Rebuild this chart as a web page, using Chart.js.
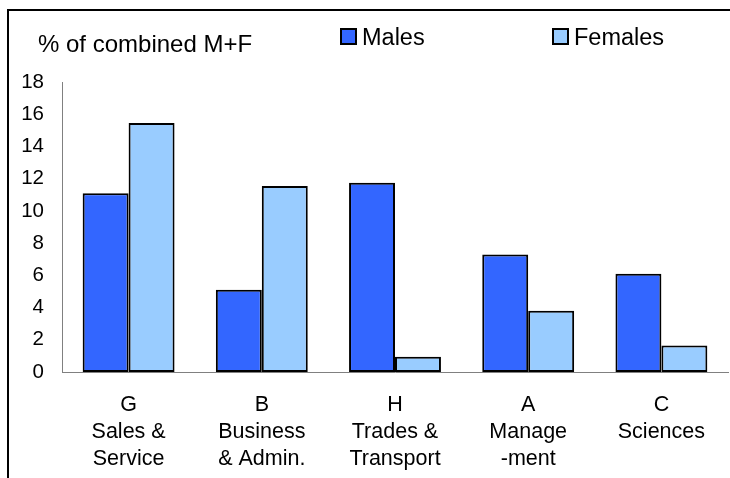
<!DOCTYPE html>
<html>
<head>
<meta charset="utf-8">
<script src="https://cdn.jsdelivr.net/npm/chart.js@4/dist/chart.umd.min.js"></script>
<style>
html,body{margin:0;padding:0;background:#fff}
#wrap{width:730px;height:478px}
</style>
</head>
<body>
<div id="wrap"><canvas id="grafico" width="730" height="478"></canvas></div>
<script>
let categorias = [
["G","Sales &","Service"],
["B","Business","& Admin."],
["H","Trades &","Transport"],
["A","Manage","-ment"],
["C","Sciences"]
]
let homens = [11.1, 5.1, 11.75, 7.3, 6.1]
let mulheres = [15.45, 11.55, 0.95, 3.8, 1.65]
let yTicks = [0,2,4,6,8,10,12,14,16,18]

let fonte = "Arial, 'Liberation Sans', sans-serif"

// moldura, titulo do eixo e legenda
let decor = {
id:"decor",
afterDraw(chart){
let c = chart.ctx
c.save()
c.strokeStyle = "#000"
c.lineWidth = 2
c.strokeRect(8,10,760,520)

c.fillStyle = "#000"
c.font = "24px " + fonte
c.textBaseline = "alphabetic"
c.textAlign = "left"
c.fillText("% of combined M+F",38,52)

let xs = [341,553]
chart.data.datasets.forEach((ds,i)=>{
c.fillStyle = ds.backgroundColor
c.fillRect(xs[i],29,15,15)
c.lineWidth = 2
c.strokeStyle = "#000"
c.strokeRect(xs[i],29,15,15)
c.fillStyle = "#000"
c.font = "23.5px " + fonte
c.fillText(ds.label,xs[i]+21,45)
})
c.restore()
}
}

let ctx = document.getElementById("grafico").getContext("2d")

let grafico = new Chart(ctx, {
type:"bar",
data:{
labels:categorias,
datasets:[{
label:"Males",
data:homens,
backgroundColor:"#3366FF",
borderColor:"#000",
borderWidth:2,
borderSkipped:false
},{
label:"Females",
data:mulheres,
backgroundColor:"#99CCFF",
borderColor:"#000",
borderWidth:2,
borderSkipped:false
}]
},
options:{
responsive:false,
animation:false,
layout:{padding:{top:82,right:2,left:0,bottom:0}},
plugins:{
legend:{display:false},
tooltip:{enabled:false}
},
datasets:{bar:{categoryPercentage:0.69,barPercentage:1}},
scales:{
x:{
grid:{display:false,drawTicks:false},
border:{display:true,color:"#808080",width:1},
ticks:{color:"#000",font:{family:fonte,size:21.5,lineHeight:1.25},padding:20,maxRotation:0,autoSkip:false},
afterFit(s){s.height = 106}
},
y:{
min:0,
max:18,
afterBuildTicks(s){s.ticks = yTicks.map(v=>({value:v}))},
grid:{display:false,drawTicks:false},
border:{display:true,color:"#808080",width:1},
ticks:{color:"#000",font:{family:fonte,size:20.5},padding:18},
afterFit(s){s.width = 62}
}
}
},
plugins:[decor]
})
</script>
</body>
</html>
